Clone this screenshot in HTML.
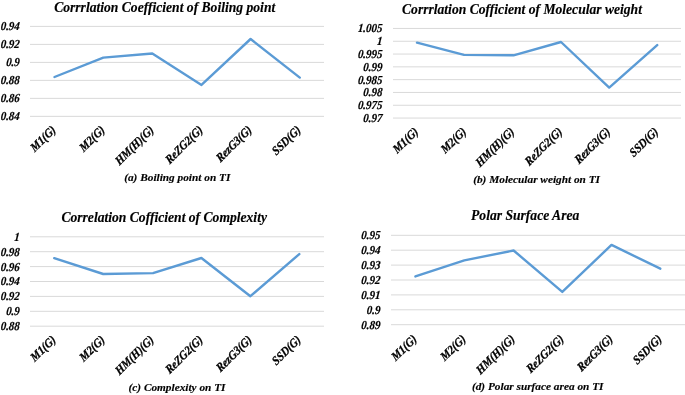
<!DOCTYPE html>
<html><head><meta charset="utf-8"><style>
html,body{margin:0;padding:0;background:#fff;width:685px;height:395px;overflow:hidden}
svg{display:block;will-change:transform}
text{font-family:"Liberation Serif", serif;font-weight:bold;font-style:italic;fill:#000;stroke:#000;paint-order:stroke}
.t{stroke-width:0.15px}.c{stroke-width:0.15px}.y{stroke-width:0.2px}.x{stroke-width:0.3px}
</style></head><body>
<svg width="685" height="395" viewBox="0 0 685 395">
<rect width="685" height="395" fill="#fff"/>
<g stroke="#D9D9D9" stroke-width="1"><line x1="30" y1="26.4" x2="324" y2="26.4"/><line x1="30" y1="44.39" x2="324" y2="44.39"/><line x1="30" y1="62.38" x2="324" y2="62.38"/><line x1="30" y1="80.37" x2="324" y2="80.37"/><line x1="30" y1="98.36" x2="324" y2="98.36"/><line x1="30" y1="116.35" x2="324" y2="116.35"/></g>
<text class="y" transform="translate(19.6,30.3) scale(0.9,1) skewX(-5)" text-anchor="end" font-size="12.2">0.94</text>
<text class="y" transform="translate(19.6,48.29) scale(0.9,1) skewX(-5)" text-anchor="end" font-size="12.2">0.92</text>
<text class="y" transform="translate(19.6,66.28) scale(0.9,1) skewX(-5)" text-anchor="end" font-size="12.2">0.9</text>
<text class="y" transform="translate(19.6,84.27) scale(0.9,1) skewX(-5)" text-anchor="end" font-size="12.2">0.88</text>
<text class="y" transform="translate(19.6,102.26) scale(0.9,1) skewX(-5)" text-anchor="end" font-size="12.2">0.86</text>
<text class="y" transform="translate(19.6,120.25) scale(0.9,1) skewX(-5)" text-anchor="end" font-size="12.2">0.84</text>
<text class="x" transform="translate(50.8,124.35) rotate(-45) scale(0.9,1) skewX(-5)" text-anchor="end" dy="0.7em" font-size="12.2">M1(G)</text>
<text class="x" transform="translate(99.8,124.35) rotate(-45) scale(0.9,1) skewX(-5)" text-anchor="end" dy="0.7em" font-size="12.2">M2(G)</text>
<text class="x" transform="translate(148.8,124.35) rotate(-45) scale(0.9,1) skewX(-5)" text-anchor="end" dy="0.7em" font-size="12.2">HM(H)(G)</text>
<text class="x" transform="translate(197.8,124.35) rotate(-45) scale(0.9,1) skewX(-5)" text-anchor="end" dy="0.7em" font-size="12.2">ReZG2(G)</text>
<text class="x" transform="translate(246.8,124.35) rotate(-45) scale(0.9,1) skewX(-5)" text-anchor="end" dy="0.7em" font-size="12.2">RezG3(G)</text>
<text class="x" transform="translate(295.8,124.35) rotate(-45) scale(0.9,1) skewX(-5)" text-anchor="end" dy="0.7em" font-size="12.2">SSD(G)</text>
<polyline points="54.5,77 103.3,57.6 152.3,53.5 201.5,84.9 250.6,39 299.8,77.6" fill="none" stroke="#5B9BD5" stroke-width="2.4" stroke-linejoin="round" stroke-linecap="round"/>
<text class="t" x="164.7" y="11.6" text-anchor="middle" font-size="13.6">Corrrlation Coefficient of Boiling point</text>
<text class="c" x="177.25" y="181.4" text-anchor="middle" font-size="11.3">(a) Boiling point on TI</text>
<g stroke="#D9D9D9" stroke-width="1"><line x1="393" y1="28.45" x2="681" y2="28.45"/><line x1="393" y1="41.25" x2="681" y2="41.25"/><line x1="393" y1="54.05" x2="681" y2="54.05"/><line x1="393" y1="66.85" x2="681" y2="66.85"/><line x1="393" y1="79.65" x2="681" y2="79.65"/><line x1="393" y1="92.45" x2="681" y2="92.45"/><line x1="393" y1="105.25" x2="681" y2="105.25"/><line x1="393" y1="118.05" x2="681" y2="118.05"/></g>
<text class="y" transform="translate(382.3,32.35) scale(0.9,1) skewX(-5)" text-anchor="end" font-size="12.2">1.005</text>
<text class="y" transform="translate(382.3,45.15) scale(0.9,1) skewX(-5)" text-anchor="end" font-size="12.2">1</text>
<text class="y" transform="translate(382.3,57.95) scale(0.9,1) skewX(-5)" text-anchor="end" font-size="12.2">0.995</text>
<text class="y" transform="translate(382.3,70.75) scale(0.9,1) skewX(-5)" text-anchor="end" font-size="12.2">0.99</text>
<text class="y" transform="translate(382.3,83.55) scale(0.9,1) skewX(-5)" text-anchor="end" font-size="12.2">0.985</text>
<text class="y" transform="translate(382.3,96.35) scale(0.9,1) skewX(-5)" text-anchor="end" font-size="12.2">0.98</text>
<text class="y" transform="translate(382.3,109.15) scale(0.9,1) skewX(-5)" text-anchor="end" font-size="12.2">0.975</text>
<text class="y" transform="translate(382.3,121.95) scale(0.9,1) skewX(-5)" text-anchor="end" font-size="12.2">0.97</text>
<text class="x" transform="translate(413.3,126.05) rotate(-45) scale(0.9,1) skewX(-5)" text-anchor="end" dy="0.7em" font-size="12.2">M1(G)</text>
<text class="x" transform="translate(461.3,126.05) rotate(-45) scale(0.9,1) skewX(-5)" text-anchor="end" dy="0.7em" font-size="12.2">M2(G)</text>
<text class="x" transform="translate(509.3,126.05) rotate(-45) scale(0.9,1) skewX(-5)" text-anchor="end" dy="0.7em" font-size="12.2">HM(H)(G)</text>
<text class="x" transform="translate(557.3,126.05) rotate(-45) scale(0.9,1) skewX(-5)" text-anchor="end" dy="0.7em" font-size="12.2">ReZG2(G)</text>
<text class="x" transform="translate(605.3,126.05) rotate(-45) scale(0.9,1) skewX(-5)" text-anchor="end" dy="0.7em" font-size="12.2">RezG3(G)</text>
<text class="x" transform="translate(653.3,126.05) rotate(-45) scale(0.9,1) skewX(-5)" text-anchor="end" dy="0.7em" font-size="12.2">SSD(G)</text>
<polyline points="417,42.6 464,54.9 513.5,55.3 561,42 609.2,87.6 657.2,45.1" fill="none" stroke="#5B9BD5" stroke-width="2.4" stroke-linejoin="round" stroke-linecap="round"/>
<text class="t" x="522" y="13.9" text-anchor="middle" font-size="13.6">Corrrlation Cofficient of Molecular weight</text>
<text class="c" x="536.6" y="183.4" text-anchor="middle" font-size="11.3">(b) Molecular weight on TI</text>
<g stroke="#D9D9D9" stroke-width="1"><line x1="30" y1="236.8" x2="324" y2="236.8"/><line x1="30" y1="251.7" x2="324" y2="251.7"/><line x1="30" y1="266.6" x2="324" y2="266.6"/><line x1="30" y1="281.5" x2="324" y2="281.5"/><line x1="30" y1="296.4" x2="324" y2="296.4"/><line x1="30" y1="311.3" x2="324" y2="311.3"/><line x1="30" y1="326.2" x2="324" y2="326.2"/></g>
<text class="y" transform="translate(19.6,240.7) scale(0.9,1) skewX(-5)" text-anchor="end" font-size="12.2">1</text>
<text class="y" transform="translate(19.6,255.6) scale(0.9,1) skewX(-5)" text-anchor="end" font-size="12.2">0.98</text>
<text class="y" transform="translate(19.6,270.5) scale(0.9,1) skewX(-5)" text-anchor="end" font-size="12.2">0.96</text>
<text class="y" transform="translate(19.6,285.4) scale(0.9,1) skewX(-5)" text-anchor="end" font-size="12.2">0.94</text>
<text class="y" transform="translate(19.6,300.3) scale(0.9,1) skewX(-5)" text-anchor="end" font-size="12.2">0.92</text>
<text class="y" transform="translate(19.6,315.2) scale(0.9,1) skewX(-5)" text-anchor="end" font-size="12.2">0.9</text>
<text class="y" transform="translate(19.6,330.1) scale(0.9,1) skewX(-5)" text-anchor="end" font-size="12.2">0.88</text>
<text class="x" transform="translate(50.8,334.2) rotate(-45) scale(0.9,1) skewX(-5)" text-anchor="end" dy="0.7em" font-size="12.2">M1(G)</text>
<text class="x" transform="translate(99.8,334.2) rotate(-45) scale(0.9,1) skewX(-5)" text-anchor="end" dy="0.7em" font-size="12.2">M2(G)</text>
<text class="x" transform="translate(148.8,334.2) rotate(-45) scale(0.9,1) skewX(-5)" text-anchor="end" dy="0.7em" font-size="12.2">HM(H)(G)</text>
<text class="x" transform="translate(197.8,334.2) rotate(-45) scale(0.9,1) skewX(-5)" text-anchor="end" dy="0.7em" font-size="12.2">ReZG2(G)</text>
<text class="x" transform="translate(246.8,334.2) rotate(-45) scale(0.9,1) skewX(-5)" text-anchor="end" dy="0.7em" font-size="12.2">RezG3(G)</text>
<text class="x" transform="translate(295.8,334.2) rotate(-45) scale(0.9,1) skewX(-5)" text-anchor="end" dy="0.7em" font-size="12.2">SSD(G)</text>
<polyline points="54.2,258.2 103.2,274 153,273.1 201.4,258 250.4,296.2 299.3,254.1" fill="none" stroke="#5B9BD5" stroke-width="2.4" stroke-linejoin="round" stroke-linecap="round"/>
<text class="t" x="164.2" y="222" text-anchor="middle" font-size="13.6">Correlation Cofficient of Complexity</text>
<text class="c" x="177" y="391.2" text-anchor="middle" font-size="11.3">(c) Complexity on TI</text>
<g stroke="#D9D9D9" stroke-width="1"><line x1="391" y1="235.3" x2="686" y2="235.3"/><line x1="391" y1="250.2" x2="686" y2="250.2"/><line x1="391" y1="265.1" x2="686" y2="265.1"/><line x1="391" y1="280.0" x2="686" y2="280.0"/><line x1="391" y1="294.9" x2="686" y2="294.9"/><line x1="391" y1="309.8" x2="686" y2="309.8"/><line x1="391" y1="324.7" x2="686" y2="324.7"/></g>
<text class="y" transform="translate(380.3,239.2) scale(0.9,1) skewX(-5)" text-anchor="end" font-size="12.2">0.95</text>
<text class="y" transform="translate(380.3,254.1) scale(0.9,1) skewX(-5)" text-anchor="end" font-size="12.2">0.94</text>
<text class="y" transform="translate(380.3,269) scale(0.9,1) skewX(-5)" text-anchor="end" font-size="12.2">0.93</text>
<text class="y" transform="translate(380.3,283.9) scale(0.9,1) skewX(-5)" text-anchor="end" font-size="12.2">0.92</text>
<text class="y" transform="translate(380.3,298.8) scale(0.9,1) skewX(-5)" text-anchor="end" font-size="12.2">0.91</text>
<text class="y" transform="translate(380.3,313.7) scale(0.9,1) skewX(-5)" text-anchor="end" font-size="12.2">0.9</text>
<text class="y" transform="translate(380.3,328.6) scale(0.9,1) skewX(-5)" text-anchor="end" font-size="12.2">0.89</text>
<text class="x" transform="translate(411.8,333.5) rotate(-45) scale(0.9,1) skewX(-5)" text-anchor="end" dy="0.7em" font-size="12.2">M1(G)</text>
<text class="x" transform="translate(460.8,333.5) rotate(-45) scale(0.9,1) skewX(-5)" text-anchor="end" dy="0.7em" font-size="12.2">M2(G)</text>
<text class="x" transform="translate(509.8,333.5) rotate(-45) scale(0.9,1) skewX(-5)" text-anchor="end" dy="0.7em" font-size="12.2">HM(H)(G)</text>
<text class="x" transform="translate(558.8,333.5) rotate(-45) scale(0.9,1) skewX(-5)" text-anchor="end" dy="0.7em" font-size="12.2">ReZG2(G)</text>
<text class="x" transform="translate(607.8,333.5) rotate(-45) scale(0.9,1) skewX(-5)" text-anchor="end" dy="0.7em" font-size="12.2">RezG3(G)</text>
<text class="x" transform="translate(656.8,333.5) rotate(-45) scale(0.9,1) skewX(-5)" text-anchor="end" dy="0.7em" font-size="12.2">SSD(G)</text>
<polyline points="415.4,276.4 464.3,260.4 513.6,250.5 562.3,291.9 611.5,244.9 660.3,268.7" fill="none" stroke="#5B9BD5" stroke-width="2.4" stroke-linejoin="round" stroke-linecap="round"/>
<text class="t" x="525.2" y="220.2" text-anchor="middle" font-size="13.6">Polar Surface Area</text>
<text class="c" x="537.7" y="390.4" text-anchor="middle" font-size="11.3">(d) Polar surface area on TI</text>
</svg>
</body></html>
